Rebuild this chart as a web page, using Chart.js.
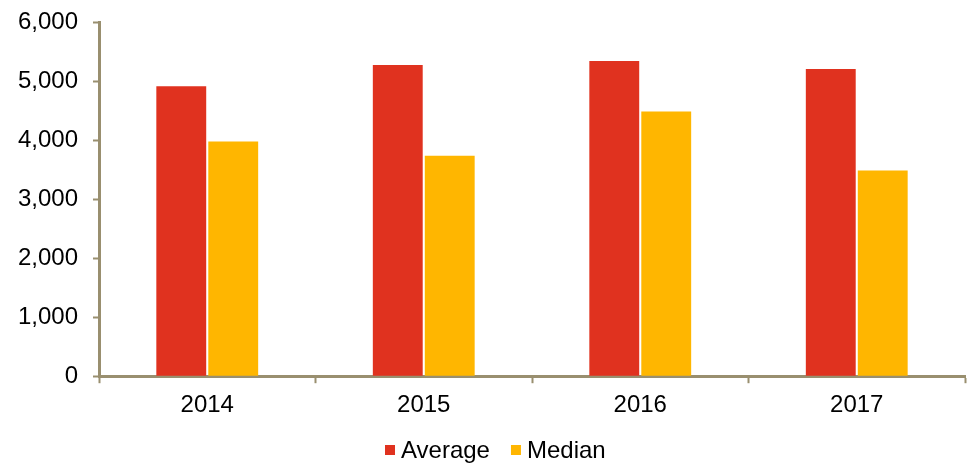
<!DOCTYPE html>
<html>
<head>
<meta charset="utf-8">
<script src="https://cdn.jsdelivr.net/npm/chart.js@4/dist/chart.umd.min.js"></script>
<style>
  html, body { margin: 0; padding: 0; background: #fff; }
  #wrap { width: 973px; height: 465px; }
</style>
</head>
<body>
<div id="wrap"><canvas id="chart" width="973" height="465"></canvas></div>
<script>
    "use strict";

    // Data
    var years = ["2014", "2015", "2016", "2017"];
    var average = [4910, 5270, 5340, 5205];
    var median = [3975, 3735, 4485, 3485];
    var yTicks = [0, 1000, 2000, 3000, 4000, 5000, 6000];

    var axisColor = "#998f6f";
    var fontFamily = "'Liberation Sans', Arial, sans-serif";
    Chart.defaults.font.family = fontFamily;
    Chart.defaults.font.size = 24;
    Chart.defaults.color = "#000";

    // Legend drawn by hand: square, small gap, label, wider gap
    var bottomLegend = {
        id: "bottomLegend",
        afterDraw: function (chart) {
            var c = chart.ctx;
            var x = 385, y = 450, box = 10;
            c.save();
            c.font = "24px " + fontFamily;
            c.textBaseline = "middle";
            c.textAlign = "left";
            chart.data.datasets.forEach(function (ds) {
                c.fillStyle = ds.backgroundColor;
                c.fillRect(x, y - box / 2, box, box);
                x += box + 6;
                c.fillStyle = "#000";
                c.fillText(ds.label, x, y + 1);
                x += c.measureText(ds.label).width + 21;
            });
            c.restore();
        }
    };

    var ctx = document.getElementById("chart").getContext("2d");
    new Chart(ctx, {
        type: "bar",
        data: {
            labels: years,
            datasets: [
                {
                    label: "Average",
                    data: average,
                    backgroundColor: "#e0321f",
                    categoryPercentage: 0.48,
                    barPercentage: 0.96
                },
                {
                    label: "Median",
                    data: median,
                    backgroundColor: "#ffb600",
                    categoryPercentage: 0.48,
                    barPercentage: 0.96
                }
            ]
        },
        plugins: [bottomLegend],
        options: {
            responsive: false,
            animation: false,
            layout: { padding: { top: 22, right: 8, bottom: 37, left: 0 } },
            plugins: {
                tooltip: { enabled: false },
                legend: { display: false }
            },
            scales: {
                x: {
                    grid: {
                        drawOnChartArea: false,
                        drawTicks: true,
                        tickLength: 7,
                        tickWidth: 2,
                        tickColor: axisColor
                    },
                    border: { color: axisColor, width: 3 },
                    ticks: { padding: 8 }
                },
                y: {
                    min: 0,
                    max: 6000,
                    afterFit: function (scale) {
                        scale.width = 99;
                        scale.paddingTop = 0;
                        scale.paddingBottom = 0;
                    },
                    afterBuildTicks: function (scale) {
                        scale.ticks = yTicks.map(function (v) { return { value: v }; });
                    },
                    grid: {
                        drawOnChartArea: false,
                        drawTicks: true,
                        tickLength: 6,
                        tickWidth: 2,
                        tickColor: axisColor
                    },
                    border: { color: axisColor, width: 3 },
                    ticks: {
                        padding: 15,
                        callback: function (v) { return v.toLocaleString("en-US"); }
                    }
                }
            }
        }
    });
</script>
</body>
</html>
